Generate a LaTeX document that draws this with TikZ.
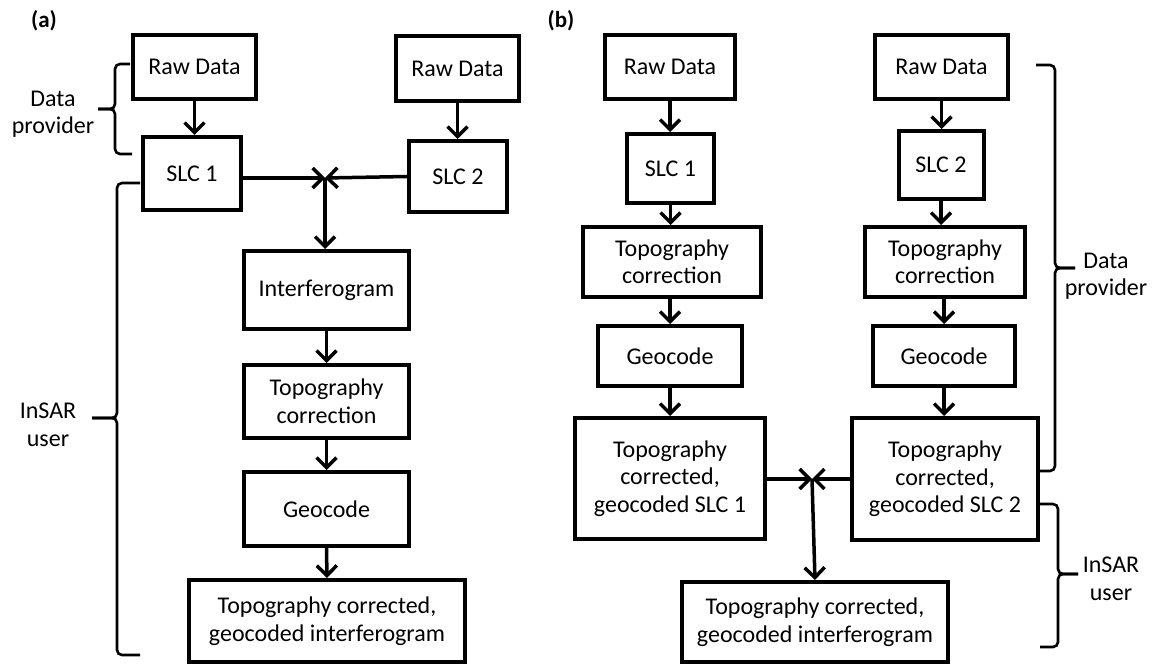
\documentclass[tikz,border=0pt]{standalone}
\usepackage{fontspec}
\setmainfont{Carlito}
\usetikzlibrary{arrows.meta}
\begin{document}
\begin{tikzpicture}[x=1pt,y=-1pt,
  box/.style={draw, line width=4pt, inner sep=2pt, align=center, font=\fontsize{24}{27.5}\selectfont},
  arr/.style={line width=3.5pt, -{Straight Barb[length=10pt,width=20pt,line width=3.5pt]}},
  brc/.style={line width=2.6pt, rounded corners=5pt},
  lbl/.style={align=center, font=\fontsize{24}{27.5}\selectfont},
  panel/.style={font=\fontsize{23}{26}\selectfont\bfseries}]
\useasboundingbox (0,0) rectangle (1157,668);

% ---------- panel (a) ----------
\node[panel] (pa) at (44,21) {(a)};
\node[box, minimum width=123pt, minimum height=64pt] (ra1) at (194.5,67) {Raw Data};
\node[box, minimum width=123pt, minimum height=65pt] (ra2) at (457.5,69) {Raw Data};
\node[box, minimum width=98pt, minimum height=73pt] (sa1) at (192,173.5) {SLC 1};
\node[box, minimum width=98pt, minimum height=71pt] (sa2) at (458,176.5) {SLC 2};
\coordinate (ja) at (325,178);
\node[box, minimum width=165pt, minimum height=78pt] (ifg) at (326.5,290) {Interferogram};
\node[box, minimum width=165pt, minimum height=73pt] (tca) at (326.5,401.5) {Topography\\correction};
\node[box, minimum width=165pt, minimum height=74pt] (gca) at (326.5,509) {Geocode};
\node[box, minimum width=276pt, minimum height=82pt] (fa) at (327,621) {Topography corrected,\\geocoded interferogram};

\draw[arr] (ra1.south) -- (ra1.south |- sa1.north);
\draw[arr] (ra2.south) -- (ra2.south |- sa2.north);
\draw[arr] (sa1.east |- ja) -- (ja);
\draw[arr] (sa2.west) -- (ja);
\draw[arr] (ja) -- (ja |- ifg.north);
\draw[arr] (ifg.south) -- (tca.north);
\draw[arr] (tca.south) -- (gca.north);
\draw[arr] (gca.south) -- (fa.north);

% braces (a)
\draw[brc] (130,64) -- (115,64) -- (115,109) -- (98,109);
\draw[brc] (98,109) -- (115,109) -- (115,154) -- (132,154);
\node[lbl] (dpa) at (53,114) {Data\\provider};
\draw[brc] (140,183) -- (117,183) -- (117,418) -- (92,418);
\draw[brc] (92,418) -- (117,418) -- (117,655) -- (140,655);
\node[lbl] (iua) at (48,425) {InSAR\\user};

% ---------- panel (b) ----------
\node[panel] (pb) at (561,21) {(b)};
\node[box, minimum width=130pt, minimum height=64pt] (rb1) at (670,67) {Raw Data};
\node[box, minimum width=133pt, minimum height=64pt] (rb2) at (941.5,67) {Raw Data};
\node[box, minimum width=87pt, minimum height=69pt] (sb1) at (670.5,168.5) {SLC 1};
\node[box, minimum width=85pt, minimum height=68pt] (sb2) at (941,165) {SLC 2};
\node[box, minimum width=178pt, minimum height=70pt] (tb1) at (672,262) {Topography\\correction};
\node[box, minimum width=160pt, minimum height=70pt] (tb2) at (945,262) {Topography\\correction};
\node[box, minimum width=144pt, minimum height=60pt] (gb1) at (670,356) {Geocode};
\node[box, minimum width=142pt, minimum height=60pt] (gb2) at (944,356) {Geocode};
\node[box, minimum width=190pt, minimum height=121pt] (cb1) at (670,478.5) {Topography\\corrected,\\geocoded SLC 1};
\node[box, minimum width=186pt, minimum height=122pt] (cb2) at (945,479) {Topography\\corrected,\\geocoded SLC 2};
\coordinate (jb) at (812,479);
\node[box, minimum width=266pt, minimum height=80pt] (fb) at (815,622) {Topography corrected,\\geocoded interferogram};

\draw[arr] (rb1.south) -- (rb1.south |- sb1.north);
\draw[arr] (rb2.south) -- (rb2.south |- sb2.north);
\draw[arr] (sb1.south) -- (sb1.south |- tb1.north);
\draw[arr] (sb2.south) -- (sb2.south |- tb2.north);
\draw[arr] (tb1.south -| gb1.north) -- (gb1.north);
\draw[arr] (tb2.south -| gb2.north) -- (gb2.north);
\draw[arr] (gb1.south) -- (gb1.south |- cb1.north);
\draw[arr] (gb2.south) -- (gb2.south |- cb2.north);
\draw[arr] (cb1.east |- jb) -- (jb);
\draw[arr] (cb2.west |- jb) -- (jb);
\draw[arr] (jb) -- (fb.north);

% braces (b)
\draw[brc] (1036,65) -- (1055,65) -- (1055,268) -- (1075,268);
\draw[brc] (1075,268) -- (1055,268) -- (1055,471) -- (1038,471);
\node[lbl] (dpb) at (1106,276) {Data\\provider};
\draw[brc] (1040,504) -- (1058,504) -- (1058,574) -- (1078,574);
\draw[brc] (1078,574) -- (1058,574) -- (1058,647) -- (1040,647);
\node[lbl] (iub) at (1111,579) {InSAR\\user};
\end{tikzpicture}
\end{document}
